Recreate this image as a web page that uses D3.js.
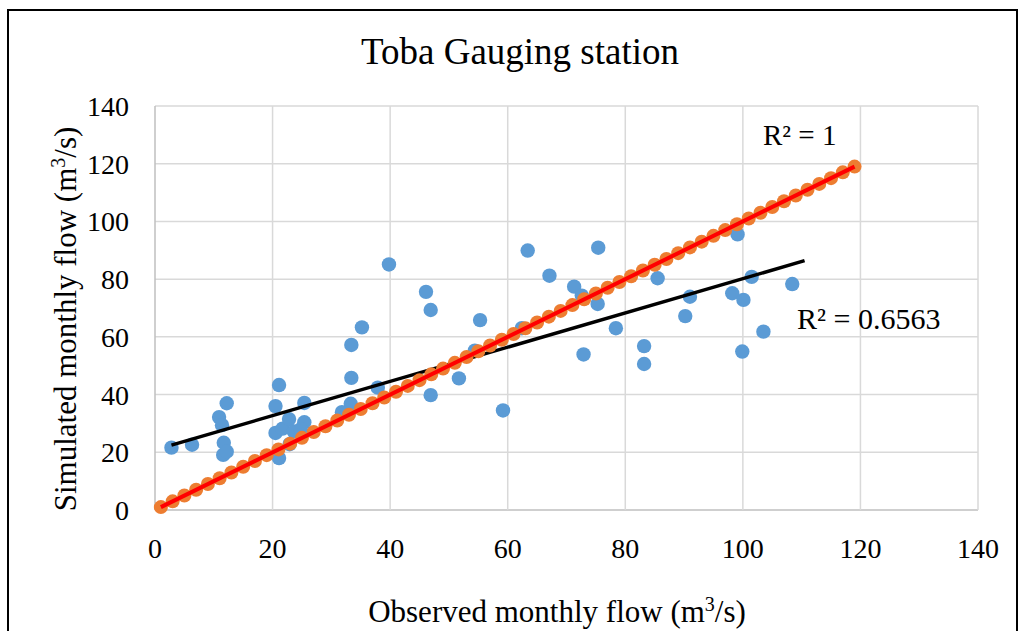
<!DOCTYPE html>
<html>
<head>
<meta charset="utf-8">
<script src="https://cdn.jsdelivr.net/npm/d3@7"></script>
<style>
  body { margin: 0; background: #fff; }
  svg { display: block; font-family: "Liberation Serif", "Times New Roman", serif; }
</style>
</head>
<body>
<svg id="chart" width="1020" height="631"></svg>
<script>
// observed vs simulated (blue points)
const observed = [2.8, 6.3, 10.9, 12.2, 11.4, 11.7, 11.6, 12.2,
  20.5, 21.1, 20.5, 21.1, 21.7, 22.8, 22.9, 23.6, 25.4, 25.4, 24.8,
  31.8, 33.3, 33.4, 33.4, 35.2, 37.9, 39.8,
  46.1, 46.9, 46.9, 51.7, 54.4, 55.3, 59.2, 62.4, 63.4, 67.1,
  71.3, 72.6, 72.9, 75.3, 75.4, 78.4, 83.2, 83.2, 85.5, 90.2, 91.0,
  98.2, 99.1, 99.9, 100.1, 101.5, 103.5, 108.4];
const simulated = [21.6, 22.6, 32.2, 37.0, 29.4, 23.3, 19.1, 20.2,
  36.0, 43.3, 26.7, 18.0, 28.2, 31.5, 22.8, 27.2, 37.1, 30.4, 28.0,
  33.9, 36.8, 45.8, 57.2, 63.3, 42.4, 85.1,
  75.6, 69.3, 39.8, 45.6, 55.2, 65.8, 34.5, 63.0, 89.9, 81.2,
  77.4, 74.3, 53.9, 71.4, 90.9, 63.0, 56.8, 50.6, 80.3, 67.2, 73.9,
  75.1, 95.5, 54.9, 72.8, 80.8, 61.8, 78.3];

// observed vs observed (orange points, R² = 1)
const perfect = [1, 3, 5, 7, 9, 11, 13, 15, 17, 19, 21, 23, 25, 27, 29,
  31, 33, 35, 37, 39, 41, 43, 45, 47, 49, 51, 53, 55, 57, 59,
  61, 63, 65, 67, 69, 71, 73, 75, 77, 79, 81, 83, 85, 87, 89,
  91, 93, 95, 97, 99, 101, 103, 105, 107, 109, 111, 113, 115, 117, 119];

// trendline ends
const trendX = [2.8, 110.5];
const trendY = [22.5, 86.4];

const xTicks = [0, 20, 40, 60, 80, 100, 120, 140];
const yTicks = [0, 20, 40, 60, 80, 100, 120, 140];

const svg = d3.select("#chart");
const plot = { left: 155, right: 978, top: 106, bottom: 510 };

const x = d3.scaleLinear().domain([0, 140]).range([plot.left, plot.right]);
const y = d3.scaleLinear().domain([0, 140]).range([plot.bottom, plot.top]);

// outer frame
svg.append("rect")
  .attr("x", 8).attr("y", 10).attr("width", 1009).attr("height", 640)
  .attr("fill", "#fff").attr("stroke", "#000").attr("stroke-width", 2);

// gridlines
svg.append("g").selectAll("line").data(yTicks).join("line")
  .attr("x1", plot.left).attr("x2", plot.right)
  .attr("y1", d => y(d)).attr("y2", d => y(d))
  .attr("stroke", d => d === 0 ? "#bfbfbf" : "#d9d9d9").attr("stroke-width", 1.5);
svg.append("g").selectAll("line").data(xTicks).join("line")
  .attr("x1", d => x(d)).attr("x2", d => x(d))
  .attr("y1", plot.top).attr("y2", plot.bottom)
  .attr("stroke", d => d === 0 ? "#bfbfbf" : "#d9d9d9").attr("stroke-width", 1.5);

// tick labels
svg.append("g").selectAll("text").data(xTicks).join("text")
  .attr("x", d => x(d)).attr("y", 558)
  .attr("text-anchor", "middle")
  .style("font-size", "28px").attr("fill", "#000")
  .text(d => d);
svg.append("g").selectAll("text").data(yTicks).join("text")
  .attr("x", 129).attr("y", d => y(d) + 10)
  .attr("text-anchor", "end")
  .style("font-size", "28px").attr("fill", "#000")
  .text(d => d);

// blue points
svg.append("g").selectAll("circle").data(observed).join("circle")
  .attr("cx", d => x(d)).attr("cy", (d, i) => y(simulated[i]))
  .attr("r", 7.2).attr("fill", "#5b9bd5");

// black trendline
svg.append("line")
  .attr("x1", x(trendX[0])).attr("y1", y(trendY[0]))
  .attr("x2", x(trendX[1])).attr("y2", y(trendY[1]))
  .attr("stroke", "#000").attr("stroke-width", 3.5);

// orange points and red trendline
svg.append("g").selectAll("circle").data(perfect).join("circle")
  .attr("cx", d => x(d)).attr("cy", d => y(d))
  .attr("r", 7).attr("fill", "#ed7d31");
svg.append("line")
  .attr("x1", x(perfect[0])).attr("y1", y(perfect[0]))
  .attr("x2", x(perfect[perfect.length - 1])).attr("y2", y(perfect[perfect.length - 1]))
  .attr("stroke", "#ff0000").attr("stroke-width", 4);

// title
svg.append("text")
  .attr("x", 520).attr("y", 64).attr("text-anchor", "middle")
  .style("font-size", "37px").text("Toba Gauging station");

// R² labels
svg.append("text").attr("x", 763).attr("y", 145)
  .style("font-size", "29px").text("R² = 1");
svg.append("text").attr("x", 797).attr("y", 329)
  .style("font-size", "30px").text("R² = 0.6563");

// axis titles
const xt = svg.append("text")
  .attr("x", 557).attr("y", 622).attr("text-anchor", "middle")
  .style("font-size", "31px");
xt.append("tspan").text("Observed monthly flow (m");
xt.append("tspan").attr("dy", -11).style("font-size", "20px").text("3");
xt.append("tspan").attr("dy", 11).text("/s)");

const yt = svg.append("text")
  .attr("transform", "translate(76,319) rotate(-90)")
  .attr("text-anchor", "middle")
  .style("font-size", "31px");
yt.append("tspan").text("Simulated monthly flow (m");
yt.append("tspan").attr("dy", -11).style("font-size", "20px").text("3");
yt.append("tspan").attr("dy", 11).text("/s)");
</script>
</body>
</html>
